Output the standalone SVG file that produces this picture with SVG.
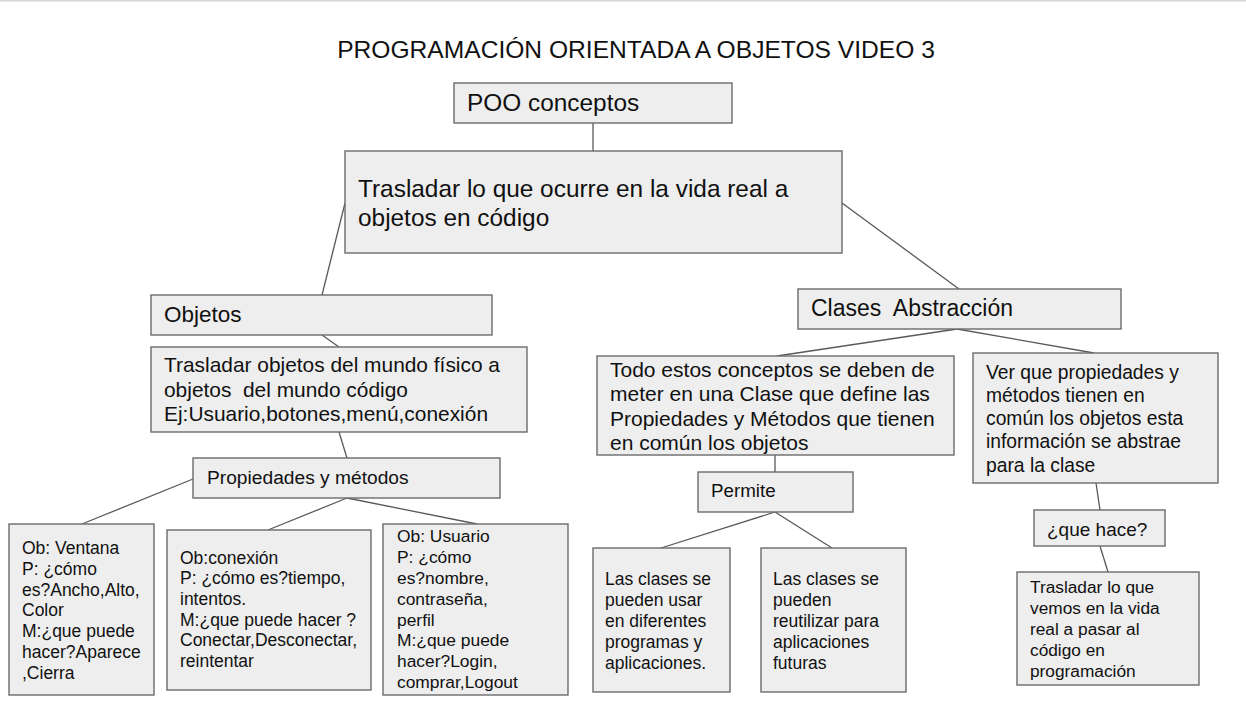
<svg xmlns="http://www.w3.org/2000/svg" width="1246" height="705" viewBox="0 0 1246 705">
<style>
.box{fill:#eeeeee;stroke:#6b6b6b;stroke-width:1.4}
.t{font-family:"Liberation Sans",Arial,sans-serif;fill:#111111}
.c line{stroke:#595959;stroke-width:1.3}
</style>
<rect x="0" y="0" width="1246" height="705" fill="#ffffff"/>
<rect x="0" y="0" width="1246" height="1.5" fill="#d6d6d6"/>
<text class="t" x="636" y="58" font-size="24.6" text-anchor="middle">PROGRAMACIÓN ORIENTADA A OBJETOS VIDEO 3</text>
<g class="c" id="connectors">
<line x1="593" y1="123" x2="593" y2="151"/>
<line x1="345" y1="203" x2="322" y2="295"/>
<line x1="842" y1="203" x2="959" y2="289"/>
<line x1="322" y1="335" x2="339" y2="347"/>
<line x1="339" y1="432" x2="347" y2="458"/>
<line x1="193" y1="479" x2="82" y2="524"/>
<line x1="347" y1="498" x2="268" y2="530"/>
<line x1="347" y1="498" x2="477" y2="524"/>
<line x1="957" y1="329" x2="777" y2="356"/>
<line x1="957" y1="329" x2="1094" y2="353"/>
<line x1="775" y1="455" x2="775" y2="472"/>
<line x1="775" y1="512" x2="661" y2="548"/>
<line x1="775" y1="512" x2="832" y2="548"/>
<line x1="1096" y1="483" x2="1100" y2="510"/>
<line x1="1100" y1="546" x2="1108" y2="572"/>
</g>
<g id="poo"><rect class="box" x="454" y="83" width="278" height="40"/>
<text class="t" x="467" y="111" font-size="24.4">POO conceptos</text></g>
<g id="trasladar"><rect class="box" x="345" y="151" width="497" height="102"/>
<text class="t" x="358" y="197" font-size="24.4">Trasladar lo que ocurre en la vida real a</text>
<text class="t" x="358" y="226" font-size="24.4">objetos en código</text></g>
<g id="objetos"><rect class="box" x="151" y="295" width="341" height="40"/>
<text class="t" x="164" y="322" font-size="22.5">Objetos</text></g>
<g id="trasladar-objetos"><rect class="box" x="151" y="347" width="376" height="85"/>
<g class="t" font-size="20.9">
<text x="164" y="372">Trasladar objetos del mundo físico a</text>
<text x="164" y="396.5" xml:space="preserve" style="white-space:pre">objetos  del mundo código</text>
<text x="164" y="421">Ej:Usuario,botones,menú,conexión</text></g></g>
<g id="propiedades"><rect class="box" x="193" y="458" width="307" height="40"/>
<text class="t" x="207" y="484" font-size="19.2">Propiedades y métodos</text></g>
<g id="ventana"><rect class="box" x="9" y="524" width="145" height="171"/>
<g class="t" font-size="17.5">
<text x="22" y="553.5">Ob: Ventana</text>
<text x="22" y="574.5">P: ¿cómo</text>
<text x="22" y="595.5">es?Ancho,Alto,</text>
<text x="22" y="616">Color</text>
<text x="22" y="637">M:¿que puede</text>
<text x="22" y="657.5">hacer?Aparece</text>
<text x="22" y="678.5">,Cierra</text></g></g>
<g id="conexion"><rect class="box" x="167" y="530" width="204" height="160"/>
<g class="t" font-size="17.5">
<text x="180" y="563.5">Ob:conexión</text>
<text x="180" y="584">P: ¿cómo es?tiempo,</text>
<text x="180" y="605">intentos.</text>
<text x="180" y="625.5">M:¿que puede hacer ?</text>
<text x="180" y="646">Conectar,Desconectar,</text>
<text x="180" y="667">reintentar</text></g></g>
<g id="usuario"><rect class="box" x="383" y="524" width="185" height="171"/>
<g class="t" font-size="17.4">
<text x="397" y="542">Ob: Usuario</text>
<text x="397" y="563">P: ¿cómo</text>
<text x="397" y="584">es?nombre,</text>
<text x="397" y="604.5">contraseña,</text>
<text x="397" y="625.5">perfil</text>
<text x="397" y="646">M:¿que puede</text>
<text x="397" y="667">hacer?Login,</text>
<text x="397" y="687.5">comprar,Logout</text></g></g>
<g id="clases"><rect class="box" x="798" y="289" width="323" height="40"/>
<text class="t" x="811" y="316" font-size="23" xml:space="preserve" style="white-space:pre">Clases  Abstracción</text></g>
<g id="todo"><rect class="box" x="597" y="356" width="357" height="99"/>
<g class="t" font-size="21">
<text x="610" y="376.5">Todo estos conceptos se deben de</text>
<text x="610" y="401">meter en una Clase que define las</text>
<text x="610" y="425.5">Propiedades y Métodos que tienen</text>
<text x="610" y="450">en común los objetos</text></g></g>
<g id="ver"><rect class="box" x="973" y="353" width="245" height="130"/>
<g class="t" font-size="19.3">
<text x="986" y="379">Ver que propiedades y</text>
<text x="986" y="402">métodos tienen en</text>
<text x="986" y="425">común los objetos esta</text>
<text x="986" y="448">información se abstrae</text>
<text x="986" y="471.5">para la clase</text></g></g>
<g id="permite"><rect class="box" x="698" y="472" width="155" height="40"/>
<text class="t" x="711" y="497" font-size="18.8">Permite</text></g>
<g id="que-hace"><rect class="box" x="1034" y="510" width="131" height="36"/>
<text class="t" x="1047" y="536" font-size="19">¿que hace?</text></g>
<g id="usar"><rect class="box" x="593" y="548" width="137" height="144"/>
<g class="t" font-size="17.5">
<text x="605" y="585">Las clases se</text>
<text x="605" y="606">pueden usar</text>
<text x="605" y="627">en diferentes</text>
<text x="605" y="648">programas y</text>
<text x="605" y="669">aplicaciones.</text></g></g>
<g id="reutilizar"><rect class="box" x="761" y="548" width="145" height="144"/>
<g class="t" font-size="17.5">
<text x="773" y="585">Las clases se</text>
<text x="773" y="606">pueden</text>
<text x="773" y="627">reutilizar para</text>
<text x="773" y="648">aplicaciones</text>
<text x="773" y="669">futuras</text></g></g>
<g id="trasladar-codigo"><rect class="box" x="1017" y="572" width="182" height="113"/>
<g class="t" font-size="17.3">
<text x="1030" y="593">Trasladar lo que</text>
<text x="1030" y="614">vemos en la vida</text>
<text x="1030" y="635">real a pasar al</text>
<text x="1030" y="656">código en</text>
<text x="1030" y="677">programación</text></g></g>
</svg>
